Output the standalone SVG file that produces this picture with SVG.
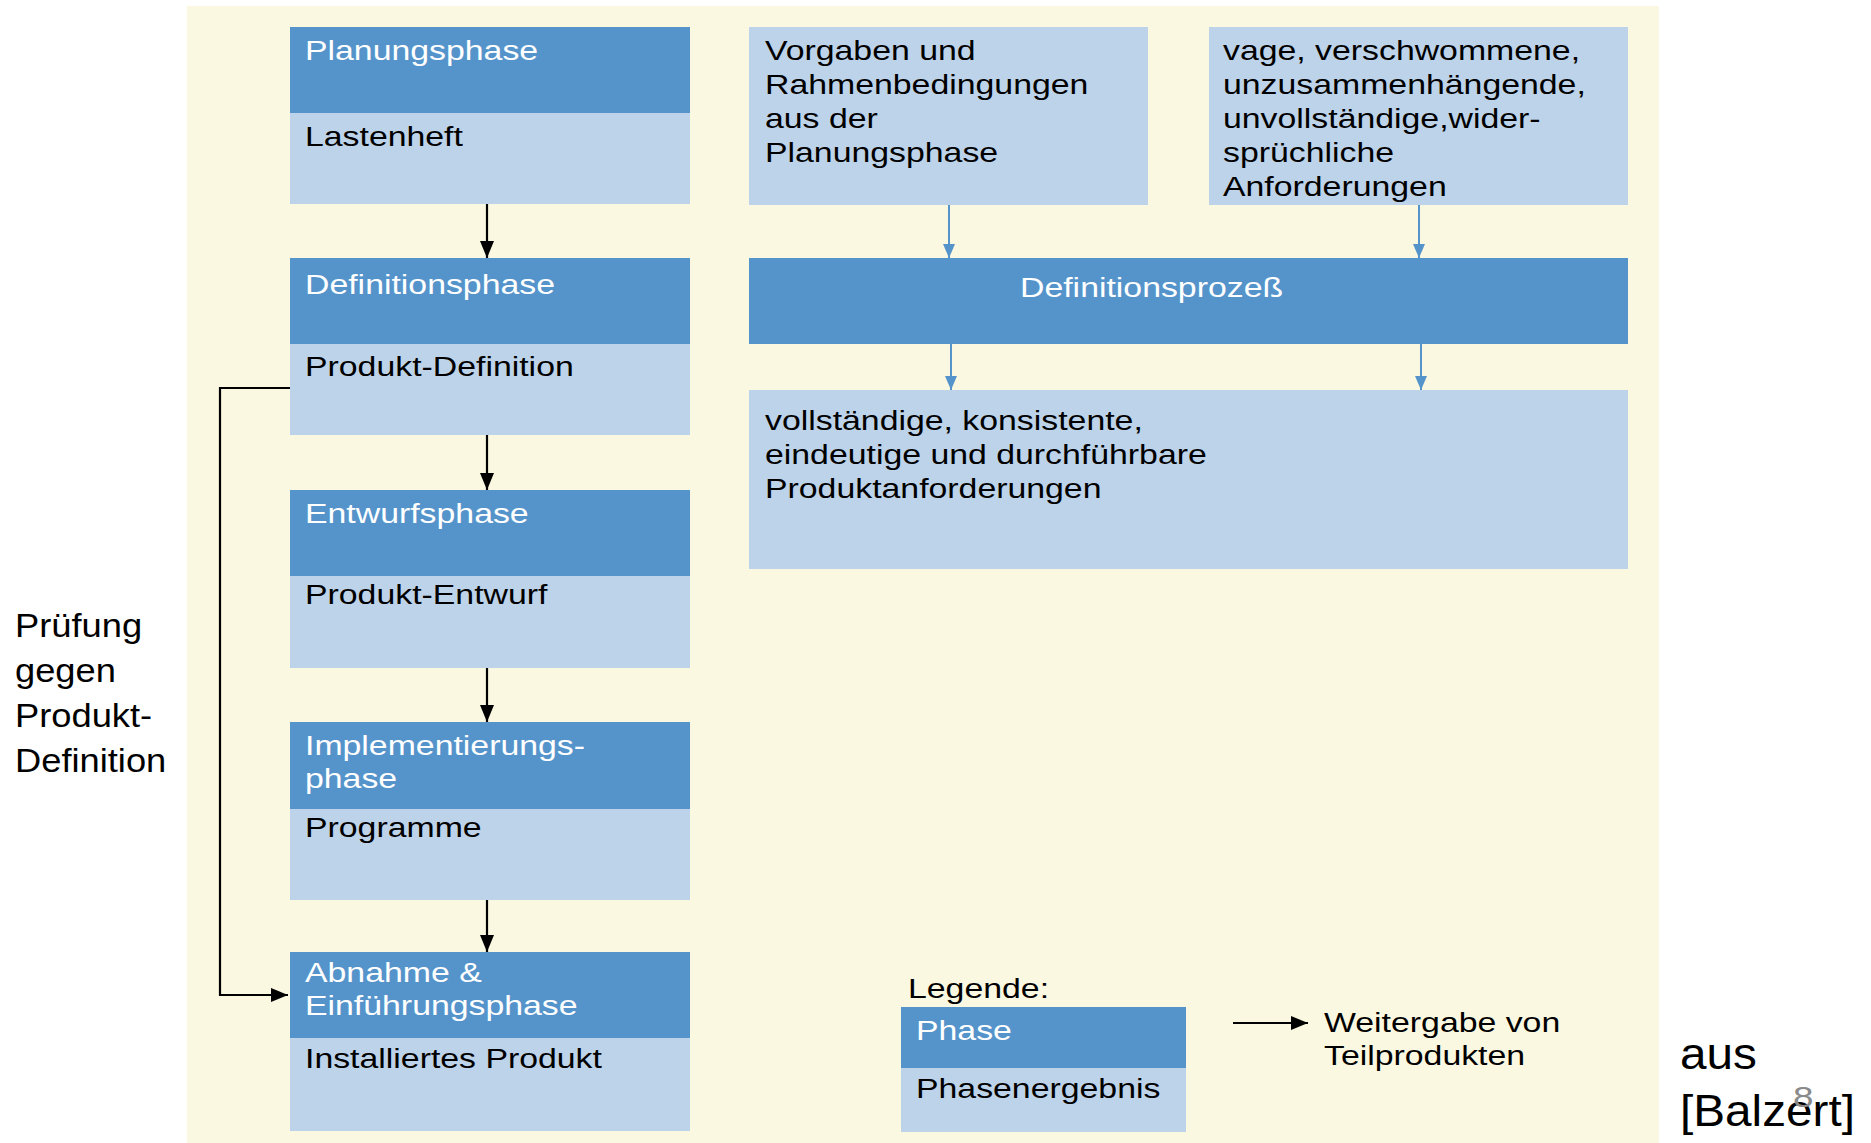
<svg xmlns="http://www.w3.org/2000/svg" width="1871" height="1143" viewBox="0 0 1871 1143">
  <style>
    .bg { fill: #FBF8E1; }
    .dk { fill: #5594CB; }
    .lt { fill: #BDD3E9; }
    .t { font-family: "Liberation Sans", Arial, Helvetica, sans-serif; font-size: 27.5px; fill: #000; }
    .w { fill: #FFFFFF; }
    .side { font-family: "Liberation Sans", Arial, Helvetica, sans-serif; font-size: 33px; fill: #000; }
    .src { font-family: "Liberation Sans", Arial, Helvetica, sans-serif; font-size: 45px; fill: #000; }
    .num { font-family: "Liberation Sans", Arial, Helvetica, sans-serif; font-size: 30px; fill: #8A8A8A; }
    .edge { stroke: #000; stroke-width: 2.2; fill: none; }
    .bedge { stroke: #5594CB; stroke-width: 2; fill: none; }
  </style>
  <defs>
    <marker id="ah" markerUnits="userSpaceOnUse" markerWidth="17" markerHeight="14" refX="17" refY="7" orient="auto">
      <path d="M0,0 L17,7 L0,14 Z" fill="#000"/>
    </marker>
    <marker id="ahb" markerUnits="userSpaceOnUse" markerWidth="14" markerHeight="12" refX="14" refY="6" orient="auto">
      <path d="M0,0 L14,6 L0,12 Z" fill="#5594CB"/>
    </marker>
  </defs>

  <!-- slide background panel -->
  <rect class="bg" x="187" y="6" width="1472" height="1137"/>

  <!-- left column: phases -->
  <g id="planungsphase">
    <rect class="dk" x="290" y="27" width="400" height="86"/>
    <rect class="lt" x="290" y="113" width="400" height="91"/>
    <text class="t w" transform="translate(305,60) scale(1.23,1)">Planungsphase</text>
    <text class="t" transform="translate(305,146) scale(1.23,1)">Lastenheft</text>
  </g>
  <g id="definitionsphase">
    <rect class="dk" x="290" y="258" width="400" height="86"/>
    <rect class="lt" x="290" y="344" width="400" height="91"/>
    <text class="t w" transform="translate(305,294) scale(1.23,1)">Definitionsphase</text>
    <text class="t" transform="translate(305,376) scale(1.23,1)">Produkt-Definition</text>
  </g>
  <g id="entwurfsphase">
    <rect class="dk" x="290" y="490" width="400" height="86"/>
    <rect class="lt" x="290" y="576" width="400" height="92"/>
    <text class="t w" transform="translate(305,523) scale(1.23,1)">Entwurfsphase</text>
    <text class="t" transform="translate(305,604) scale(1.23,1)">Produkt-Entwurf</text>
  </g>
  <g id="implementierungsphase">
    <rect class="dk" x="290" y="722" width="400" height="87"/>
    <rect class="lt" x="290" y="809" width="400" height="91"/>
    <text class="t w" transform="translate(305,755) scale(1.23,1)"><tspan x="0" y="0">Implementierungs-</tspan><tspan x="0" y="33">phase</tspan></text>
    <text class="t" transform="translate(305,837) scale(1.23,1)">Programme</text>
  </g>
  <g id="abnahmephase">
    <rect class="dk" x="290" y="952" width="400" height="86"/>
    <rect class="lt" x="290" y="1038" width="400" height="93"/>
    <text class="t w" transform="translate(305,982) scale(1.23,1)"><tspan x="0" y="0">Abnahme &amp;</tspan><tspan x="0" y="33">Einführungsphase</tspan></text>
    <text class="t" transform="translate(305,1068) scale(1.23,1)">Installiertes Produkt</text>
  </g>

  <!-- right column: definition process -->
  <g id="vorgaben">
    <rect class="lt" x="749" y="27" width="399" height="178"/>
    <text class="t" transform="translate(765,60) scale(1.23,1)"><tspan x="0" y="0">Vorgaben und</tspan><tspan x="0" y="34">Rahmenbedingungen</tspan><tspan x="0" y="68">aus der</tspan><tspan x="0" y="102">Planungsphase</tspan></text>
  </g>
  <g id="anforderungen-roh">
    <rect class="lt" x="1209" y="27" width="419" height="178"/>
    <text class="t" transform="translate(1223,60) scale(1.23,1)"><tspan x="0" y="0">vage, verschwommene,</tspan><tspan x="0" y="34">unzusammenhängende,</tspan><tspan x="0" y="68">unvollständige,wider-</tspan><tspan x="0" y="102">sprüchliche</tspan><tspan x="0" y="136">Anforderungen</tspan></text>
  </g>
  <g id="definitionsprozess">
    <rect class="dk" x="749" y="258" width="879" height="86"/>
    <text class="t w" transform="translate(1020,297) scale(1.23,1)">Definitionsprozeß</text>
  </g>
  <g id="produktanforderungen">
    <rect class="lt" x="749" y="390" width="879" height="179"/>
    <text class="t" transform="translate(765,430) scale(1.23,1)"><tspan x="0" y="0">vollständige, konsistente,</tspan><tspan x="0" y="34">eindeutige und durchführbare</tspan><tspan x="0" y="68">Produktanforderungen</tspan></text>
  </g>

  <!-- legend -->
  <g id="legende">
    <text class="t" transform="translate(908,998) scale(1.23,1)">Legende:</text>
    <rect class="dk" x="901" y="1007" width="285" height="61"/>
    <rect class="lt" x="901" y="1068" width="285" height="64"/>
    <text class="t w" transform="translate(916,1040) scale(1.23,1)">Phase</text>
    <text class="t" transform="translate(916,1098) scale(1.23,1)">Phasenergebnis</text>
  </g>
  <g id="legende-pfeil">
    <text class="t" transform="translate(1324,1032) scale(1.23,1)"><tspan x="0" y="0">Weitergabe von</tspan><tspan x="0" y="33">Teilprodukten</tspan></text>
  </g>

  <!-- side annotation and source -->
  <g id="pruefung">
    <text class="side" transform="translate(15,637) scale(1.1,1)"><tspan x="0" y="0">Prüfung</tspan><tspan x="0" y="45">gegen</tspan><tspan x="0" y="90">Produkt-</tspan><tspan x="0" y="135">Definition</tspan></text>
  </g>
  <g id="quelle">
    <text class="src" transform="translate(1680,1069) scale(1.06,1)"><tspan x="0" y="0">aus</tspan><tspan x="0" y="57">[Balzert]</tspan></text>
  </g>
  <text class="num" transform="translate(1793,1107) scale(1.23,1)">8</text>

  <!-- connectors -->
  <g id="connectors">
    <line class="edge" x1="487" y1="204" x2="487" y2="258" marker-end="url(#ah)"/>
    <line class="edge" x1="487" y1="435" x2="487" y2="490" marker-end="url(#ah)"/>
    <line class="edge" x1="487" y1="668" x2="487" y2="722" marker-end="url(#ah)"/>
    <line class="edge" x1="487" y1="900" x2="487" y2="952" marker-end="url(#ah)"/>
    <path class="edge" d="M290,388 H220 V995 H288" marker-end="url(#ah)"/>
    <line class="bedge" x1="949" y1="205" x2="949" y2="258" marker-end="url(#ahb)"/>
    <line class="bedge" x1="1419" y1="205" x2="1419" y2="258" marker-end="url(#ahb)"/>
    <line class="bedge" x1="951" y1="344" x2="951" y2="390" marker-end="url(#ahb)"/>
    <line class="bedge" x1="1421" y1="344" x2="1421" y2="390" marker-end="url(#ahb)"/>
    <line class="edge" x1="1233" y1="1023" x2="1308" y2="1023" marker-end="url(#ah)"/>
  </g>
</svg>
